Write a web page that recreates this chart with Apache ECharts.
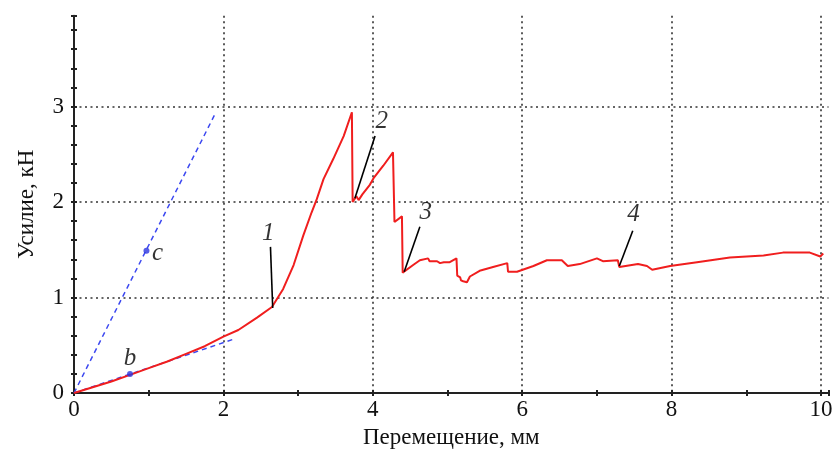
<!DOCTYPE html>
<html>
<head>
<meta charset="utf-8">
<script src="https://cdn.jsdelivr.net/npm/echarts@6/dist/echarts.min.js"></script>
<style>html,body{margin:0;padding:0;background:#fff}#c{width:837px;height:454px}</style>
</head>
<body>
<div id="c"></div>
<script>
// Force–displacement curve (x: mm, y: kN)
const curveX = [0,0.25,0.5,0.75,1.0,1.25,1.5,1.75,2.0,2.2,2.45,2.65,2.80,2.94,3.07,3.18,3.25,3.34,3.47,3.61,3.72,3.73,3.78,3.81,3.86,3.96,4.01,4.14,4.27,4.29,4.31,4.39,4.40,4.54,4.63,4.74,4.76,4.86,4.9,4.95,5.03,5.12,5.13,5.17,5.18,5.21,5.26,5.3,5.43,5.61,5.80,5.81,5.93,6.15,6.33,6.53,6.61,6.77,7.0,7.08,7.28,7.30,7.55,7.67,7.74,7.98,8.34,8.78,9.23,9.49,9.85,9.99,10.03];
const curveY = [0,0.06,0.12,0.19,0.26,0.33,0.41,0.49,0.59,0.66,0.79,0.90,1.09,1.34,1.65,1.89,2.03,2.24,2.45,2.69,2.94,2.0,2.06,2.02,2.08,2.18,2.25,2.38,2.52,1.79,1.79,1.85,1.26,1.34,1.39,1.41,1.38,1.38,1.36,1.37,1.37,1.41,1.23,1.21,1.18,1.17,1.16,1.22,1.28,1.32,1.36,1.27,1.27,1.33,1.39,1.39,1.33,1.35,1.41,1.38,1.39,1.32,1.35,1.33,1.29,1.33,1.37,1.42,1.44,1.47,1.47,1.43,1.46];
// dashed tangent lines b and c
const lineB = [[0,0],[2.16,0.57]];
const lineC = [[0,0],[1.9,2.94]];
const dotB = [0.75,0.2];
const dotC = [0.97,1.49];
// letter labels
const letterLabels = [[0.75,0.36,'b'],[1.12,1.46,'c']];
// numbered callouts: label position and leader line
const calloutText = ['1','2','3','4'];
const calloutLabelPos = [[2.60,1.67],[4.12,2.84],[4.71,1.89],[7.49,1.87]];
const calloutLines = [
  [[2.63,1.53],[2.66,0.89]],
  [[4.03,2.69],[3.76,2.04]],
  [[4.63,1.74],[4.42,1.27]],
  [[7.48,1.70],[7.30,1.33]]
];
const xName = 'Перемещение, мм';
const yName = 'Усилие, кН';

const FONT = 'Liberation Serif';
const chart = echarts.init(document.getElementById('c'), null, {renderer:'canvas'});
const gridLine = {show:true, showMinLine:false, showMaxLine:false, lineStyle:{color:'#333', type:[2,3.5], width:1.6}};

const series = [];
series.push({type:'line', data: curveX.map((x,i)=>[x,curveY[i]]), showSymbol:false, symbol:'none',
  lineStyle:{color:'#f01e1e', width:2}, z:5, animation:false});
[lineB,lineC].forEach(d=>series.push({type:'line', data:d, showSymbol:false, symbol:'none',
  lineStyle:{color:'#3c48f0', width:1.5, type:[5,4]}, z:4, animation:false}));
series.push({type:'scatter', data:[dotB,dotC], symbolSize:6, itemStyle:{color:'#2a35e0'}, z:6, animation:false});
series.push({type:'scatter', data:letterLabels.map(d=>({value:[d[0],d[1]], name:d[2]})), symbolSize:0,
  label:{show:true, position:'inside', formatter:p=>p.name, fontFamily:FONT, fontStyle:'italic', fontSize:25, color:'#000'}, animation:false});
calloutLines.forEach(d=>series.push({type:'line', data:d, showSymbol:false, symbol:'none',
  lineStyle:{color:'#000', width:1.6}, z:7, animation:false}));
series.push({type:'scatter', data:calloutLabelPos.map((p,i)=>({value:p, name:calloutText[i]})), symbolSize:0,
  label:{show:true, position:'inside', formatter:p=>p.name, fontFamily:FONT, fontStyle:'italic', fontSize:25, color:'#000'}, animation:false});

chart.setOption({
  animation:false,
  backgroundColor:'#fff',
  grid:{left:74, right:8.5, top:15.8, bottom:59},
  xAxis:[
    {type:'value', min:0, max:10.1, interval:2, position:'bottom',
     axisLine:{lineStyle:{color:'#222', width:2}},
     axisTick:{show:false},
     axisLabel:{showMaxLabel:false, fontFamily:FONT, fontSize:23, color:'#111', margin:5},
     splitLine:gridLine,
     name:xName, nameLocation:'middle', nameGap:33,
     nameTextStyle:{fontFamily:FONT, fontSize:23, color:'#111'}},
    {type:'value', min:0, max:10.1, interval:1, position:'bottom',
     axisLine:{show:false}, axisLabel:{show:false}, splitLine:{show:false},
     axisTick:{show:true, length:3, lineStyle:{color:'#222', width:2}}},
    {type:'value', min:0, max:10.1, interval:1, position:'bottom',
     axisLine:{show:false}, axisLabel:{show:false}, splitLine:{show:false},
     axisTick:{show:true, inside:true, length:3, lineStyle:{color:'#222', width:2}}}
  ],
  yAxis:[
    {type:'value', min:0, max:3.95, interval:1, position:'left',
     axisLine:{show:true, lineStyle:{color:'#222', width:2}},
     axisTick:{show:false},
     axisLabel:{showMaxLabel:false, fontFamily:FONT, fontSize:23, color:'#111', margin:10},
     splitLine:gridLine,
     name:yName, nameLocation:'middle', nameGap:36,
     nameTextStyle:{fontFamily:FONT, fontSize:23, color:'#111'}},
    {type:'value', min:0, max:3.95, interval:0.2, position:'left',
     axisLine:{show:false}, axisLabel:{show:false}, splitLine:{show:false},
     axisTick:{show:true, length:3, lineStyle:{color:'#222', width:2}}},
    {type:'value', min:0, max:3.95, interval:0.2, position:'left',
     axisLine:{show:false}, axisLabel:{show:false}, splitLine:{show:false},
     axisTick:{show:true, inside:true, length:3, lineStyle:{color:'#222', width:2}}}
  ],
  series: series
});
</script>
</body>
</html>
